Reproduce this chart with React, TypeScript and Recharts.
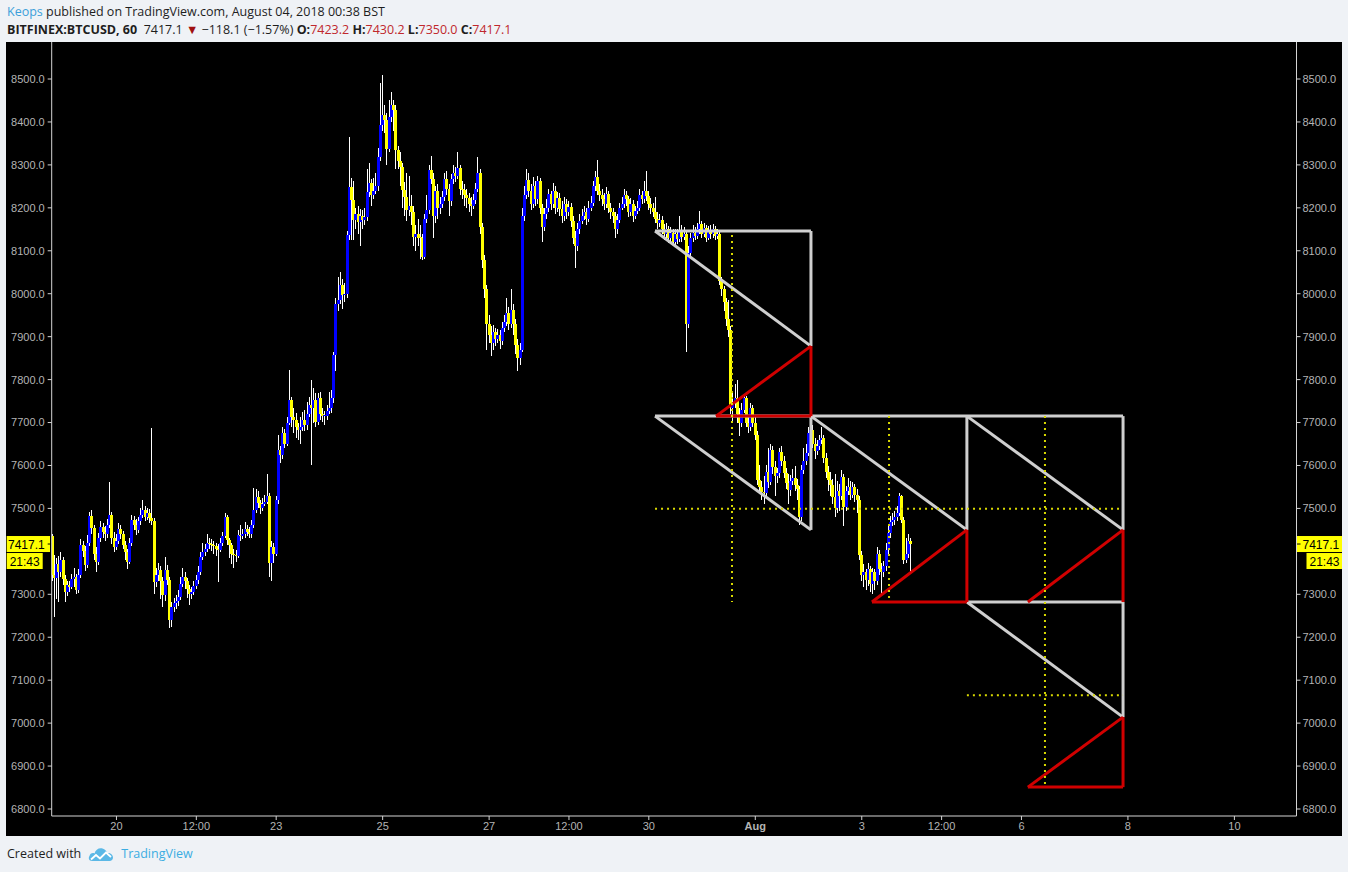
import { ComposedChart, Bar, XAxis, YAxis, ReferenceLine } from "recharts";

// hours counted from 20 Jul 2018 00:00, one candle per hour
const FIRST_HOUR = -29;
const FIRST_OPEN = 7436;

const CLOSE = [
  7345, 7338, 7370, 7352, 7380, 7335,
  7306, 7322, 7318, 7335, 7340, 7310, 7345, 7414, 7400, 7368, 7420, 7482,
  7455, 7395, 7375, 7430, 7457, 7446, 7440, 7462, 7484, 7430, 7410, 7425,
  7452, 7440, 7415, 7398, 7376, 7420, 7473, 7462, 7450, 7470, 7485, 7496,
  7480, 7490, 7478, 7470, 7329, 7345, 7356, 7330, 7298, 7357, 7333, 7240,
  7271, 7280, 7285, 7294, 7325, 7341, 7330, 7312, 7300, 7305, 7320, 7333,
  7352, 7388, 7399, 7405, 7419, 7418, 7415, 7413, 7405, 7404, 7420, 7436,
  7480, 7426, 7415, 7395, 7392, 7390, 7438, 7435, 7440, 7453, 7445, 7440,
  7461, 7496, 7527, 7512, 7500, 7510, 7516, 7529, 7372, 7411, 7395, 7519,
  7636, 7624, 7675, 7651, 7700, 7752, 7713, 7705, 7690, 7682, 7690, 7705,
  7694, 7720, 7740, 7735, 7752, 7702, 7756, 7720, 7715, 7716, 7728, 7733,
  7756, 7857, 7977, 7985, 8020, 7997, 8000, 8137, 8249, 8218, 8171, 8185,
  8168, 8180, 8172, 8179, 8237, 8257, 8230, 8240, 8250, 8319, 8393, 8416,
  8405, 8338, 8412, 8439, 8428, 8334, 8310, 8296, 8241, 8226, 8195, 8205,
  8190, 8133, 8140, 8130, 8129, 8085, 8175, 8195, 8288, 8268, 8180, 8240,
  8199, 8210, 8225, 8268, 8245, 8215, 8268, 8280, 8275, 8292, 8245, 8241,
  8230, 8222, 8210, 8205, 8218, 8245, 8280, 8156, 8078, 8010, 7930, 7905,
  7885, 7910, 7895, 7905, 7890, 7920, 7935, 7955, 7930, 7962, 7930, 7880,
  7850, 7870, 8180, 8230, 8265, 8240, 8210, 8250, 8220, 8262, 8200, 8155,
  8185, 8200, 8232, 8210, 8240, 8200, 8222, 8198, 8180, 8210, 8190, 8202,
  8170, 8130, 8110, 8150, 8170, 8182, 8190, 8175, 8200, 8212, 8250, 8272,
  8240, 8230, 8220, 8210, 8232, 8200, 8190, 8180, 8150, 8172, 8200, 8210,
  8230, 8220, 8190, 8210, 8180, 8192, 8200, 8230, 8220, 8240, 8228, 8210,
  8200, 8190, 8175, 8165, 8172, 8150, 8140, 8150, 8130, 8142, 8120, 8138,
  8128, 8148, 8132, 8140, 7930, 8095, 8130, 8142, 8135, 8150, 8162, 8140,
  8152, 8130, 8145, 8138, 8150, 8135, 8140, 8030, 8010, 7980, 7940, 7915,
  7733, 7745, 7756, 7720, 7700, 7730, 7756, 7698, 7690, 7733, 7700, 7671,
  7566, 7550, 7539, 7535, 7585, 7562, 7636, 7597, 7575, 7582, 7632, 7610,
  7582, 7560, 7543, 7565, 7570, 7555, 7545, 7481, 7589, 7610, 7630, 7675,
  7683, 7651, 7633, 7645, 7659, 7665, 7617, 7585, 7566, 7555, 7527, 7500,
  7540, 7530, 7574, 7504, 7540, 7550, 7532, 7550, 7532, 7520, 7391, 7345,
  7352, 7333, 7360, 7325, 7352, 7330, 7395, 7360, 7353, 7365, 7403, 7442,
  7469, 7473, 7480, 7490, 7529, 7473, 7380, 7395, 7423.2, 7417.1,
];

const HIGH = [
  7440, 7392, 7385, 7390, 7398, 7388,
  7345, 7332, 7330, 7348, 7362, 7348, 7360, 7428, 7425, 7412, 7438, 7492,
  7496, 7462, 7410, 7442, 7470, 7466, 7458, 7475, 7562, 7492, 7445, 7440,
  7465, 7462, 7448, 7425, 7405, 7432, 7485, 7482, 7475, 7480, 7500, 7520,
  7505, 7502, 7498, 7687, 7478, 7362, 7372, 7366, 7340, 7388, 7368, 7340,
  7282, 7292, 7298, 7310, 7340, 7362, 7352, 7338, 7322, 7318, 7332, 7345,
  7365, 7398, 7420, 7418, 7440, 7432, 7428, 7425, 7420, 7418, 7430, 7445,
  7490, 7484, 7432, 7420, 7405, 7402, 7450, 7462, 7452, 7468, 7462, 7456,
  7472, 7548, 7545, 7540, 7520, 7525, 7532, 7580, 7535, 7425, 7420, 7528,
  7671, 7645, 7690, 7685, 7712, 7822, 7760, 7735, 7722, 7700, 7712, 7725,
  7730, 7748, 7760, 7800, 7780, 7768, 7768, 7772, 7735, 7728, 7740, 7770,
  7775, 7865, 7990, 8040, 8050, 8035, 8025, 8145, 8365, 8270, 8262, 8200,
  8205, 8198, 8195, 8200, 8290, 8305, 8268, 8270, 8280, 8340, 8490, 8509,
  8440, 8420, 8450, 8470, 8452, 8440, 8345, 8330, 8305, 8260, 8280, 8275,
  8230, 8205, 8160, 8175, 8160, 8140, 8185, 8230, 8300, 8320, 8280, 8250,
  8255, 8225, 8240, 8280, 8285, 8255, 8278, 8300, 8295, 8330, 8300, 8262,
  8255, 8245, 8235, 8225, 8232, 8258, 8318, 8290, 8165, 8090, 8020, 7950,
  7925, 7928, 7920, 7918, 7915, 7935, 7950, 7990, 7970, 8010, 7975, 7940,
  7895, 7885, 8200, 8250, 8290, 8280, 8255, 8272, 8262, 8275, 8270, 8210,
  8200, 8220, 8245, 8240, 8258, 8250, 8238, 8235, 8215, 8225, 8220, 8215,
  8212, 8180, 8145, 8165, 8185, 8198, 8205, 8200, 8215, 8228, 8262, 8285,
  8312, 8255, 8245, 8235, 8248, 8240, 8212, 8200, 8190, 8185, 8212, 8225,
  8245, 8240, 8228, 8222, 8218, 8205, 8215, 8245, 8240, 8262, 8285, 8240,
  8222, 8212, 8225, 8190, 8185, 8180, 8162, 8165, 8158, 8155, 8150, 8150,
  8150, 8180, 8160, 8155, 8148, 8110, 8142, 8160, 8155, 8165, 8192, 8170,
  8165, 8160, 8158, 8160, 8162, 8158, 8150, 8145, 8040, 8018, 7990, 7985,
  7925, 7770, 7790, 7800, 7735, 7745, 7765, 7762, 7712, 7745, 7740, 7712,
  7680, 7600, 7565, 7575, 7600, 7640, 7650, 7645, 7610, 7595, 7640, 7645,
  7622, 7595, 7580, 7578, 7592, 7598, 7568, 7552, 7600, 7640, 7650, 7690,
  7712, 7695, 7665, 7660, 7672, 7690, 7672, 7628, 7598, 7585, 7568, 7580,
  7565, 7558, 7590, 7580, 7552, 7570, 7565, 7562, 7558, 7545, 7528, 7400,
  7370, 7360, 7372, 7366, 7362, 7358, 7410, 7402, 7372, 7378, 7420, 7462,
  7482, 7490, 7495, 7505, 7535, 7532, 7480, 7430, 7440, 7430.2,
];

const LOW = [
  7330, 7247, 7290, 7282, 7340, 7322,
  7283, 7296, 7305, 7312, 7318, 7300, 7302, 7338, 7386, 7355, 7362, 7412,
  7440, 7380, 7352, 7368, 7422, 7430, 7425, 7432, 7455, 7418, 7398, 7402,
  7418, 7428, 7405, 7380, 7360, 7370, 7412, 7450, 7438, 7442, 7462, 7478,
  7470, 7472, 7465, 7462, 7300, 7318, 7330, 7290, 7270, 7285, 7322, 7222,
  7225, 7258, 7266, 7272, 7286, 7316, 7312, 7292, 7276, 7290, 7298, 7312,
  7325, 7345, 7380, 7390, 7398, 7405, 7400, 7395, 7390, 7329, 7398, 7412,
  7430, 7415, 7385, 7370, 7362, 7375, 7385, 7425, 7428, 7432, 7436, 7430,
  7432, 7455, 7490, 7502, 7488, 7494, 7505, 7510, 7340, 7330, 7372, 7390,
  7510, 7605, 7615, 7640, 7645, 7695, 7690, 7675, 7665, 7660, 7650, 7680,
  7680, 7682, 7712, 7601, 7700, 7690, 7695, 7705, 7702, 7695, 7706, 7720,
  7722, 7745, 7820, 7960, 7975, 7965, 7980, 7990, 8125, 8125, 8125, 8150,
  8140, 8110, 8150, 8160, 8170, 8225, 8205, 8220, 8232, 8240, 8310, 8380,
  8375, 8300, 8330, 8400, 8380, 8290, 8290, 8250, 8200, 8180, 8170, 8180,
  8160, 8110, 8100, 8110, 8080, 8078, 8080, 8165, 8185, 8255, 8130, 8165,
  8175, 8185, 8200, 8215, 8230, 8180, 8205, 8255, 8260, 8268, 8230, 8220,
  8205, 8200, 8190, 8180, 8198, 8210, 8238, 8140, 8060, 7990, 7870, 7885,
  7855, 7870, 7878, 7885, 7872, 7880, 7910, 7925, 7915, 7920, 7905, 7860,
  7820, 7835, 7865, 8170, 8220, 8225, 8195, 8200, 8205, 8210, 8185, 8120,
  8145, 8175, 8190, 8195, 8200, 8185, 8190, 8180, 8165, 8170, 8175, 8180,
  8155, 8115, 8060, 8100, 8140, 8162, 8172, 8160, 8168, 8192, 8205, 8240,
  8230, 8215, 8205, 8195, 8200, 8188, 8175, 8165, 8130, 8140, 8165, 8195,
  8200, 8205, 8178, 8182, 8168, 8175, 8185, 8192, 8208, 8212, 8215, 8195,
  8185, 8178, 8165, 8150, 8155, 8138, 8125, 8130, 8118, 8120, 8110, 8112,
  8115, 8120, 8120, 8125, 7865, 7920, 8085, 8120, 8125, 8128, 8140, 8130,
  8132, 8120, 8125, 8128, 8130, 8125, 8128, 8020, 7995, 7960, 7925, 7900,
  7720, 7700, 7735, 7700, 7668, 7690, 7722, 7690, 7675, 7680, 7690, 7660,
  7555, 7535, 7520, 7510, 7525, 7548, 7555, 7580, 7530, 7560, 7570, 7598,
  7570, 7545, 7510, 7530, 7555, 7540, 7520, 7462, 7470, 7580, 7600, 7622,
  7665, 7640, 7615, 7625, 7635, 7650, 7605, 7570, 7540, 7530, 7510, 7480,
  7490, 7495, 7520, 7460, 7495, 7532, 7520, 7525, 7515, 7490, 7380, 7330,
  7318, 7310, 7320, 7305, 7300, 7310, 7322, 7345, 7300, 7340, 7355, 7395,
  7432, 7460, 7462, 7470, 7482, 7465, 7370, 7372, 7385, 7350,
];

const LAST_PRICE = 7417.1;

const Y_TICKS = [
  6800, 6900, 7000, 7100, 7200, 7300, 7500, 7600, 7700, 7800, 7900, 8000,
  8100, 8200, 8300, 8400, 8500,
]; // 7400 sits under the price tag
const X_TICKS = [0, 36, 72, 120, 168, 204, 240, 288, 336, 372, 408, 456, 504];
const X_LABELS = ["20", "12:00", "23", "25", "27", "12:00", "30", "Aug", "3", "12:00", "6", "8", "10"];

// drawings: [hour1, price1, hour2, price2]
const GREY_LINES = [
  [242.8, 8146, 313.1, 8146],
  [313.1, 8146, 313.1, 7878],
  [242.8, 8146, 313.1, 7878],
  [242.8, 7715, 453.8, 7715],
  [242.8, 7715, 313.1, 7450],
  [313.1, 7715, 313.1, 7450],
  [313.1, 7715, 383.4, 7450],
  [383.4, 7715, 383.4, 7450],
  [383.4, 7715, 453.8, 7450],
  [453.8, 7715, 453.8, 7450],
  [383.4, 7282, 453.8, 7282],
  [383.4, 7282, 453.8, 7014],
  [453.8, 7282, 453.8, 7014],
];
const RED_LINES = [
  [270.3, 7715, 313.1, 7878],
  [313.1, 7878, 313.1, 7715],
  [270.3, 7715, 313.1, 7715],
  [340.6, 7282, 383.4, 7450],
  [383.4, 7450, 383.4, 7282],
  [340.6, 7282, 383.4, 7282],
  [410.9, 7282, 453.8, 7450],
  [453.8, 7450, 453.8, 7282],
  [410.9, 6851, 453.8, 7014],
  [453.8, 7014, 453.8, 6851],
  [410.9, 6851, 453.8, 6851],
];
const DOTTED_LINES = [
  [277.5, 8137, 277.5, 7282],
  [242.8, 7499, 453.8, 7499],
  [348.3, 7715, 348.3, 7282],
  [418.6, 7715, 418.6, 6851],
  [383.4, 7065, 453.8, 7065],
];

const candles = CLOSE.map((close, i) => {
  const open = i === 0 ? FIRST_OPEN : CLOSE[i - 1];
  return {
    t: FIRST_HOUR + i,
    open,
    close,
    range: [LOW[i], HIGH[i]],
    body: [Math.min(open, close), Math.max(open, close)],
  };
});

const X_DOMAIN = [-29.2, 532];
const Y_DOMAIN = [6783.7, 8586.2];
const AXIS_FONT = '"Liberation Sans", Arial, sans-serif';
const TEXT_FONT = '"Open Sans", "Noto Sans", sans-serif';
const AXIS_COLOR = "#d4d4d4";
const LABEL_COLOR = "#b4b4b4";

function Wick(props: any) {
  const { x, y, width, height } = props;
  if (x == null || y == null) return null;
  const cx = x + width / 2;
  return (
    <rect
      x={Math.round(cx - 0.5)}
      y={Math.min(y, y + height)}
      width={1}
      height={Math.abs(height)}
      fill="#ffffff"
      shapeRendering="crispEdges"
    />
  );
}

function Body(props: any) {
  const { x, y, width, height, payload } = props;
  if (x == null || y == null || !payload) return null;
  const cx = x + width / 2;
  const up = payload.close >= payload.open;
  return (
    <rect
      x={Math.round(cx - 1.5)}
      y={Math.min(y, y + height)}
      width={3}
      height={Math.max(1, Math.abs(height))}
      fill={up ? "#0000ff" : "#ffff00"}
      shapeRendering="crispEdges"
    />
  );
}

function TimeTick(props: any) {
  const { x, y, payload } = props;
  const label = X_LABELS[X_TICKS.indexOf(payload.value)];
  return (
    <text
      x={x}
      y={y}
      dy="0.71em"
      textAnchor="middle"
      fill={LABEL_COLOR}
      fontSize={11}
      fontFamily={AXIS_FONT}
      fontWeight={label === "Aug" ? "bold" : "normal"}
    >
      {label}
    </text>
  );
}

function PriceTag(props: any) {
  const vb = props.viewBox || {};
  const left = vb.x;
  const right = vb.x + vb.width;
  const y = vb.y;
  const txt = {
    fontSize: 12,
    fontFamily: AXIS_FONT,
    fill: "#000",
  };
  return (
    <g>
      <rect x={left - 45} y={y - 8} width={43.3} height={16} fill="#ffff00" />
      <rect x={left - 45} y={y + 9} width={36} height={16} fill="#ffff00" />
      <line x1={left - 4} x2={left} y1={y} y2={y} stroke="#000" />
      <text x={left - 7} y={y + 4.5} textAnchor="end" {...txt}>
        {LAST_PRICE.toFixed(1)}
      </text>
      <text x={left - 42} y={y + 21.5} {...txt}>
        21:43
      </text>
      <rect x={right} y={y - 8} width={45.5} height={16} fill="#ffff00" />
      <rect x={right + 10} y={y + 9} width={35.5} height={16} fill="#ffff00" />
      <line x1={right} x2={right + 4} y1={y} y2={y} stroke="#000" />
      <text x={right + 6} y={y + 4.5} {...txt}>
        {LAST_PRICE.toFixed(1)}
      </text>
      <text x={right + 13} y={y + 21.5} {...txt}>
        21:43
      </text>
    </g>
  );
}

function Logo() {
  return (
    <svg width={26} height={16} viewBox="0 0 26 16" style={{ verticalAlign: "middle" }}>
      <path
        d="M4 15 C1 15 0 12 1.5 10 C2 7.5 4.5 6.5 6.5 7.5 C7.5 3.5 11 1.5 14.5 2.5 C17 3.2 18.5 5 19 7 C22 6.5 25 8.5 25 11.5 C25 13.5 23.5 15 21.5 15 Z"
        fill="#5bb8e6"
      />
      <polyline points="3,13.5 8,9 12,12.5 18,6.5 23,11" fill="none" stroke="#ffffff" strokeWidth={1.8} />
    </svg>
  );
}

export default function App() {
  const seg = (l: number[]) => [
    { x: l[0], y: l[1] },
    { x: l[2], y: l[3] },
  ];
  return (
    <div style={{ position: "relative", width: 1348, height: 872, background: "#eff2f6", overflow: "hidden" }}>
      <style>{"body{margin:0;background:#eff2f6}"}</style>
      <div
        style={{
          position: "absolute",
          left: 7,
          top: 3,
          fontFamily: TEXT_FONT,
          fontSize: 12.5,
          color: "#1e1e1e",
          whiteSpace: "nowrap",
          lineHeight: "18px",
        }}
      >
        <span style={{ color: "#3c9fda" }}>Keops</span> published on TradingView.com, August 04, 2018 00:38 BST
      </div>
      <div
        style={{
          position: "absolute",
          left: 7,
          top: 21,
          fontFamily: TEXT_FONT,
          fontSize: 12.5,
          color: "#1e1e1e",
          whiteSpace: "nowrap",
          lineHeight: "18px",
        }}
      >
        <b>BITFINEX:BTCUSD, 60</b>&nbsp; 7417.1 <span style={{ color: "#a01010" }}>▼</span> −118.1 (−1.57%){" "}
        <b>O:</b>
        <span style={{ color: "#c0282d" }}>7423.2</span> <b>H:</b>
        <span style={{ color: "#c0282d" }}>7430.2</span> <b>L:</b>
        <span style={{ color: "#c0282d" }}>7350.0</span> <b>C:</b>
        <span style={{ color: "#c0282d" }}>7417.1</span>
      </div>

      <div style={{ position: "absolute", left: 6, top: 42, width: 1336, height: 794, background: "#000" }}>
        <ComposedChart
          width={1336}
          height={794}
          data={candles}
          margin={{ top: 0, right: 0, bottom: 0, left: 0 }}
        >
          <XAxis
            dataKey="t"
            type="number"
            domain={X_DOMAIN}
            allowDataOverflow
            ticks={X_TICKS}
            interval={0}
            height={20}
            stroke={AXIS_COLOR}
            tickSize={4}
            tickMargin={2}
            tick={<TimeTick />}
          />
          <XAxis xAxisId="body" dataKey="t" type="number" domain={X_DOMAIN} allowDataOverflow hide />
          <YAxis
            yAxisId="left"
            orientation="left"
            type="number"
            domain={Y_DOMAIN}
            allowDataOverflow
            ticks={Y_TICKS}
            interval={0}
            width={45.7}
            stroke={AXIS_COLOR}
            tickSize={4}
            tickMargin={3}
            tick={{ fill: LABEL_COLOR, fontSize: 11, fontFamily: AXIS_FONT }}
            tickFormatter={(v: number) => v.toFixed(1)}
          />
          <YAxis
            yAxisId="right"
            orientation="right"
            type="number"
            domain={Y_DOMAIN}
            allowDataOverflow
            ticks={Y_TICKS}
            interval={0}
            width={45.5}
            stroke={AXIS_COLOR}
            tickSize={4}
            tickMargin={2}
            tick={{ fill: LABEL_COLOR, fontSize: 11, fontFamily: AXIS_FONT }}
            tickFormatter={(v: number) => v.toFixed(1)}
          />
          <Bar
            yAxisId="left"
            dataKey="range"
            barSize={2}
            shape={<Wick />}
            isAnimationActive={false}
          />
          <Bar
            xAxisId="body"
            yAxisId="left"
            dataKey="body"
            barSize={2}
            minPointSize={1}
            shape={<Body />}
            isAnimationActive={false}
          />
          {GREY_LINES.map((l, i) => (
            <ReferenceLine
              key={"g" + i}
              yAxisId="left"
              segment={seg(l)}
              stroke="#cfcfcf"
              strokeWidth={3}
              ifOverflow="visible"
            />
          ))}
          {RED_LINES.map((l, i) => (
            <ReferenceLine
              key={"r" + i}
              yAxisId="left"
              segment={seg(l)}
              stroke="#d00000"
              strokeWidth={3}
              ifOverflow="visible"
            />
          ))}
          {DOTTED_LINES.map((l, i) => (
            <ReferenceLine
              key={"d" + i}
              yAxisId="left"
              segment={seg(l)}
              stroke="#d8d800"
              strokeWidth={2}
              strokeDasharray="2 4"
              ifOverflow="visible"
            />
          ))}
          <ReferenceLine
            yAxisId="left"
            y={LAST_PRICE}
            stroke="none"
            ifOverflow="visible"
            label={(p: any) => <PriceTag {...p} />}
          />
        </ComposedChart>
      </div>

      <div
        style={{
          position: "absolute",
          left: 7,
          top: 845,
          fontFamily: TEXT_FONT,
          fontSize: 12.5,
          color: "#1e1e1e",
          whiteSpace: "nowrap",
          display: "flex",
          alignItems: "center",
          gap: 7,
        }}
      >
        <span>Created with</span>
        <Logo />
        <span style={{ color: "#3bade2" }}>TradingView</span>
      </div>
    </div>
  );
}
